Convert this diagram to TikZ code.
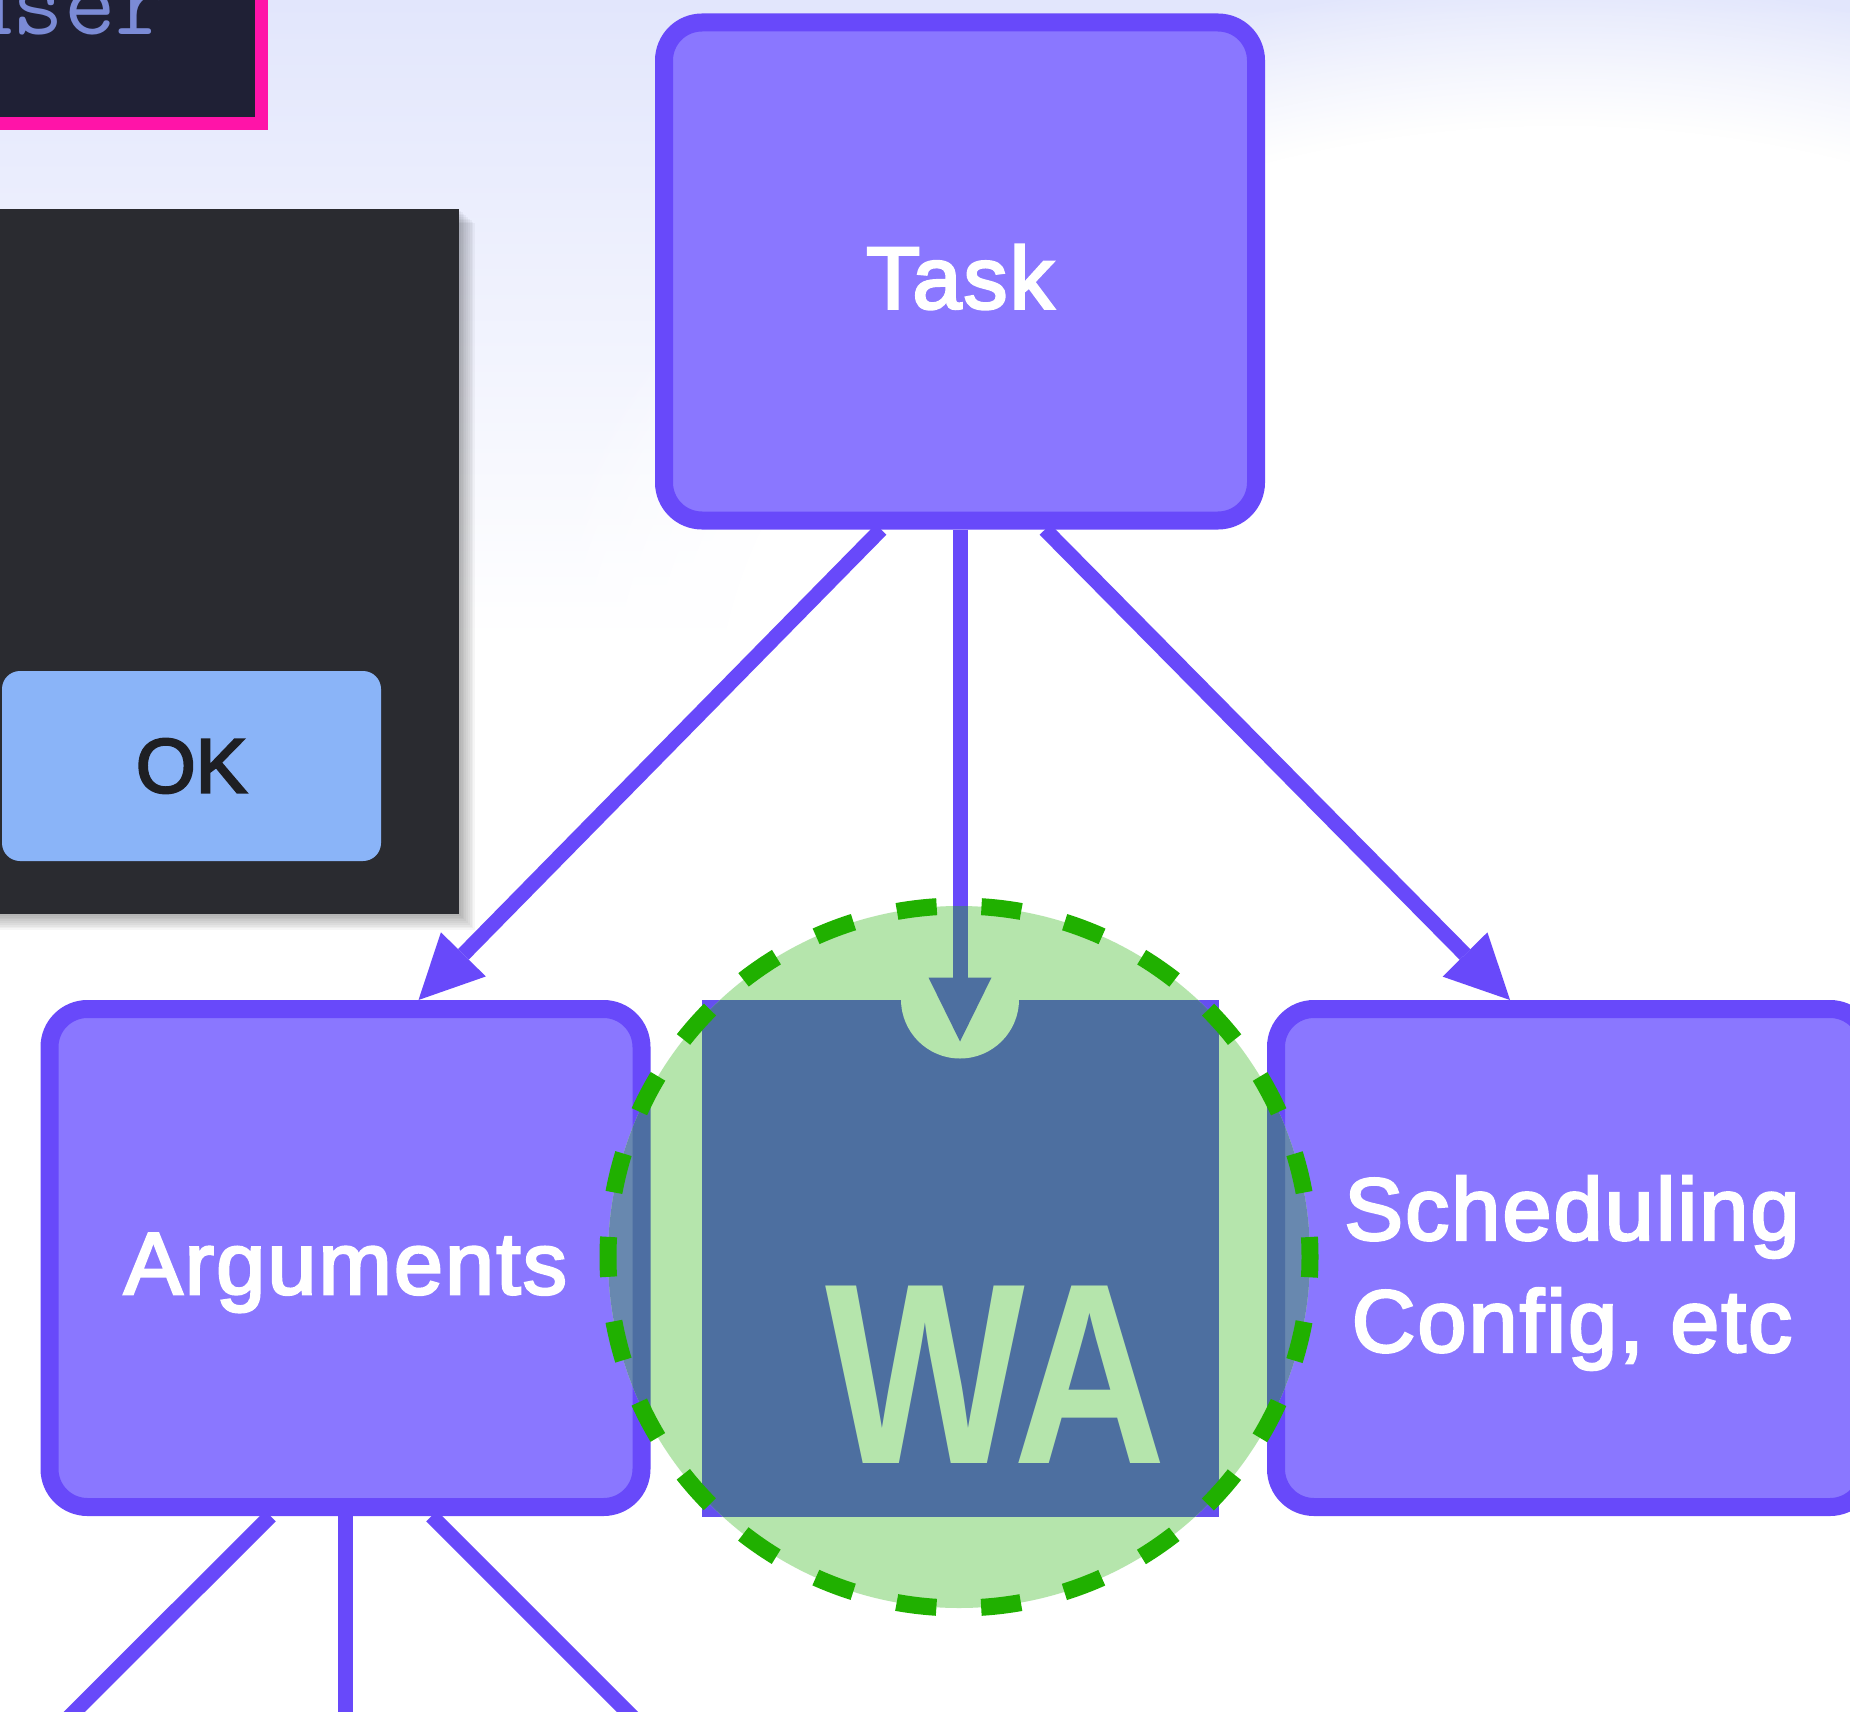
\documentclass[tikz,border=0pt]{standalone}
\usepackage{fontspec}
\usepackage{graphicx}
\setmainfont{Liberation Sans}
\usetikzlibrary{arrows.meta,fadings}
\definecolor{bgtop}{HTML}{E2E6FC}
\definecolor{codebg}{HTML}{1F2035}
\definecolor{codepink}{HTML}{FF14A8}
\definecolor{codetxt}{HTML}{7B8BD6}
\definecolor{panelbg}{HTML}{2A2B30}
\definecolor{okbtn}{HTML}{8AB4F8}
\definecolor{oktxt}{HTML}{1E1F23}
\definecolor{boxfill}{HTML}{8A77FF}
\definecolor{boxline}{HTML}{6849FA}
\definecolor{wapurple}{HTML}{654FF0}
\definecolor{ringfill}{HTML}{B5E5AC}
\definecolor{ringdash}{HTML}{20B000}
\definecolor{ovfill}{HTML}{6888AF}
\definecolor{ovline}{HTML}{4D6EA2}
\definecolor{wablue}{HTML}{4D6FA0}
\begin{document}
\begin{tikzpicture}[x=1pt,y=-1pt,
  flowbox/.style={draw=boxline, fill=boxfill, line width=18pt, rounded corners=38pt,
    minimum width=592pt, minimum height=498pt, inner sep=0pt},
  boxlbl/.style={text=white, inner sep=0pt,
    font=\fontsize{88}{112}\selectfont\addfontfeature{LetterSpace=2.5,FakeBold=3}},
  arr/.style={draw=boxline, line width=15pt,
    -{Triangle[length=64pt,width=63pt,line width=0pt]}},
  conn/.style={draw=boxline, line width=15pt},
  ovbox/.style={draw=ovline, fill=ovfill, line width=18pt, rounded corners=38pt}
]
\useasboundingbox (0,0) rectangle (1850,1712);
\clip (0,0) rectangle (1850,1712);
% background
\fill[white] (0,0) rectangle (1850,1712);
\shade[top color=bgtop, bottom color=white] (0,0) rectangle (1850,640);
\fill[white, path fading=circle with fuzzy edge 20 percent] (1560,720) ellipse[x radius=1050pt, y radius=740pt];

% code box (top left)
\node[draw=codepink, fill=codebg, line width=13pt, inner sep=0pt, outer sep=0pt,
  minimum width=330pt, minimum height=190pt, anchor=south east] (codebox) at (261.5,123.5) {};
\node[anchor=base west, inner sep=0pt, text=codetxt,
  font=\ttfamily\fontsize{100}{100}\selectfont] (codetext) at (-39,35) {user};

% dialog panel with shadow
\foreach \i in {1,...,9}
  \fill[black, opacity=0.035] (-30,209+1.6*\i) rectangle (459+1.8*\i, 914+1.8*\i);
\node[fill=panelbg, inner sep=0pt, outer sep=0pt, minimum width=489pt, minimum height=705pt,
  anchor=north east] (dialog) at (459,209) {};
\node[fill=okbtn, rounded corners=18pt, inner sep=0pt, outer sep=0pt,
  minimum width=379pt, minimum height=190pt, text=oktxt,
  font=\fontsize{77}{77}\selectfont\addfontfeature{FakeBold=3}] (ok) at (191.5,766) {OK};

% boxes
\node[flowbox] (task) at (960,271.5) {};
\node[flowbox] (args) at (345.5,1258) {};
\node[flowbox] (sched) at (1572,1258) {};

% WebAssembly logo square
\node[fill=wapurple, inner sep=0pt, outer sep=0pt, minimum size=517pt] (wa) at (960,1258) {};

% connectors
\draw[arr] ([xshift=-79pt]task.south) -- ([xshift=73pt]args.north);
\draw[arr] (task.south) -- ([yshift=-42pt]wa.north);
\draw[arr] ([xshift=85pt]task.south) -- ([xshift=-62pt]sched.north);
\coordinate (argsL) at (-20,1806);
\coordinate (argsM) at (345.5,1806);
\coordinate (argsR) at (721.5,1806);
\draw[conn] ([xshift=-75pt]args.south) -- (argsL);
\draw[conn] (args.south) -- (argsM);
\draw[conn] ([xshift=86pt]args.south) -- (argsR);

% green highlight circle
\begin{scope}
  \clip (959,1257) circle[radius=351pt];
  \fill[ringfill] (959,1257) circle[radius=360pt];
  \draw[ovbox] ([shift={(9pt,-9pt)}]args.north west) rectangle ([shift={(-9pt,9pt)}]args.south east);
  \draw[ovbox] ([shift={(9pt,-9pt)}]sched.north west) rectangle ([shift={(-9pt,9pt)}]sched.south east);
  \fill[wablue] (wa.north west) rectangle (wa.south east);
  \fill[ringfill] (wa.north) circle[radius=59pt];
  \draw[arr, draw=wablue] (task.south) -- ([yshift=-42pt]wa.north);
\end{scope}

% box labels
\node[boxlbl, anchor=base] (tasklbl) at ([yshift=-37pt]task.center) {Task};
\node[boxlbl, anchor=base] (argslbl) at ([yshift=-36pt]args.center) {Arguments};
\node[boxlbl, align=center] (schedlbl) at ([yshift=-15pt]sched.center) {Scheduling\\Config, etc};
\node[anchor=base, inner sep=0pt, text=ringfill,
  font=\bfseries\fontsize{258}{258}\selectfont] (watext) at (996,1463) {\scalebox{0.82}[1]{WA}};

% dashed ring
\draw[ringdash, line width=17pt, dash pattern=on 40pt off 44.823pt, dash phase=20pt]
  (959,1257) circle[radius=351pt];
\end{tikzpicture}
\end{document}
